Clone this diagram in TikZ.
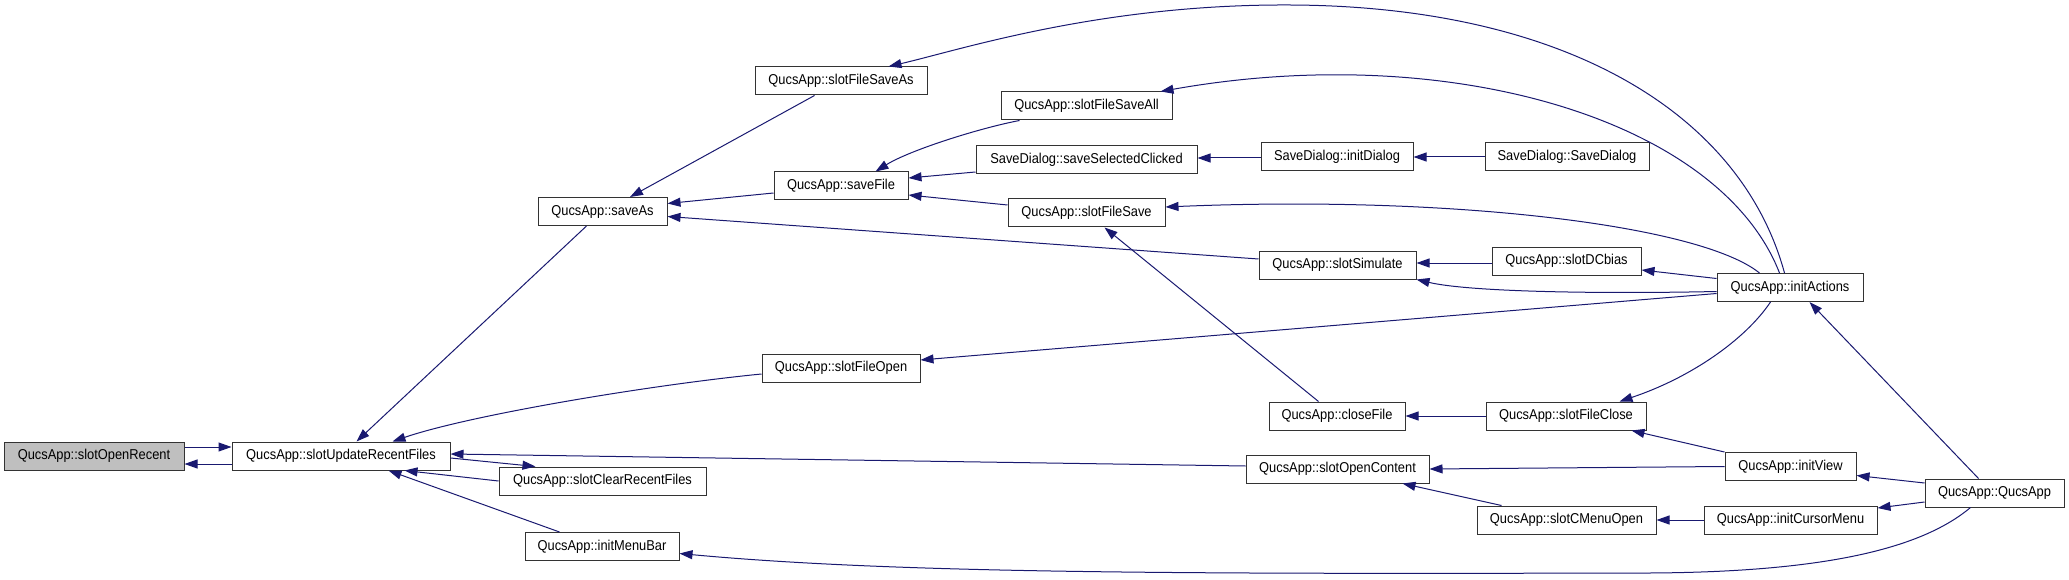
\documentclass[tikz,border=0pt]{standalone}
\usepackage{fontspec}
\setmainfont{Liberation Sans}[FakeStretch=0.9]
\usepackage{xcolor}
\usepackage{tikz}
\usetikzlibrary{arrows.meta}
\definecolor{edgeblue}{RGB}{25,25,112}
\definecolor{nodegray}{RGB}{191,191,191}

\begin{document}
\begin{tikzpicture}[
        x=1pt, y=-1pt,
        every node/.style={font=\fontsize{14.3}{16}\selectfont},
        fn/.style={rectangle, draw=black!80, line width=1pt, fill=white,
            minimum height=28pt, inner sep=0pt, text centered},
        fnhl/.style={fn, fill=nodegray},
        call/.style={color=edgeblue, line width=1pt,
            -{Triangle[length=13pt,width=9pt]}}
    ]
    \useasboundingbox (0,0) rectangle (2069,580);
    \node (openrecent)   [fnhl, minimum width=180pt] at (94,456)      {QucsApp::slotOpenRecent};
    \node (updaterecent) [fn, minimum width=218pt]   at (341,456)     {QucsApp::slotUpdateRecentFiles};
    \node (clearrecent)  [fn, minimum width=207pt]   at (602.5,481)   {QucsApp::slotClearRecentFiles};
    \node (initmenubar)  [fn, minimum width=154pt]   at (602,546.5)   {QucsApp::initMenuBar};
    \node (saveas)       [fn, minimum width=129pt]   at (602.5,211.5) {QucsApp::saveAs};
    \node (filesaveas)   [fn, minimum width=172pt]   at (841,81)      {QucsApp::slotFileSaveAs};
    \node (savefile)     [fn, minimum width=134pt]   at (841,186)     {QucsApp::saveFile};
    \node (fileopen)     [fn, minimum width=158pt]   at (841,368)     {QucsApp::slotFileOpen};
    \node (filesaveall)  [fn, minimum width=171pt]   at (1086.5,106)  {QucsApp::slotFileSaveAll};
    \node (saveselected) [fn, minimum width=221pt]   at (1086.5,160)  {SaveDialog::saveSelectedClicked};
    \node (filesave)     [fn, minimum width=157pt]   at (1086.5,213)  {QucsApp::slotFileSave};
    \node (initdialog)   [fn, minimum width=152pt]   at (1337,157)    {SaveDialog::initDialog};
    \node (simulate)     [fn, minimum width=157pt]   at (1337.5,265)  {QucsApp::slotSimulate};
    \node (closefile)    [fn, minimum width=136pt]   at (1337,416)    {QucsApp::closeFile};
    \node (opencontent)  [fn, minimum width=183pt]   at (1337.5,469)  {QucsApp::slotOpenContent};
    \node (savedialog)   [fn, minimum width=164pt]   at (1567,157)    {SaveDialog::SaveDialog};
    \node (dcbias)       [fn, minimum width=149pt]   at (1566.5,261)  {QucsApp::slotDCbias};
    \node (fileclose)    [fn, minimum width=160pt]   at (1566,416)    {QucsApp::slotFileClose};
    \node (cmenuopen)    [fn, minimum width=179pt]   at (1566.5,520)  {QucsApp::slotCMenuOpen};
    \node (initactions)  [fn, minimum width=146pt]   at (1790,287.5)  {QucsApp::initActions};
    \node (initview)     [fn, minimum width=131pt]   at (1790.5,466.5){QucsApp::initView};
    \node (initcursor)   [fn, minimum width=173pt]   at (1790.5,520)  {QucsApp::initCursorMenu};
    \node (qucsapp)      [fn, minimum width=139pt]   at (1994.5,493)  {QucsApp::QucsApp};
    \draw [call] ([yshift=9pt]openrecent.east) -- ([yshift=9pt]updaterecent.west);
    \draw [call] ([yshift=-8pt]updaterecent.west) -- ([yshift=-8pt]openrecent.east);
    \draw [call] ([yshift=-2pt]updaterecent.east) -- ([xshift=37pt]clearrecent.north west);
    \draw [call] (clearrecent.west) -- ([xshift=-46pt]updaterecent.south east);
    \draw [call] ([xshift=35pt]initmenubar.north west) -- ([xshift=-62pt]updaterecent.south east);
    \draw [call] ([xshift=49pt]saveas.south west) -- ([xshift=125pt]updaterecent.north west);
    \draw [call] ([yshift=-6pt]fileopen.west) .. controls (650,385) and (470,415)
        .. ([xshift=-58pt]updaterecent.north east);
    \draw [call] ([yshift=3pt]opencontent.west) -- ([yshift=2pt]updaterecent.east);
    \draw [call] ([xshift=60pt]filesaveas.south west) -- ([xshift=-37.5pt]saveas.north east);
    \draw [call] ([yshift=-7pt]savefile.west) -- ([yshift=8pt]saveas.east);
    \draw [call] ([yshift=6pt]simulate.west) -- ([yshift=-5pt]saveas.east);
    \draw [call] ([xshift=19pt]filesaveall.south west) .. controls (980,128) and (910,150)
        .. ([xshift=-33pt]savefile.north east);
    \draw [call] ([yshift=-12pt]saveselected.west) -- ([yshift=8pt]savefile.east);
    \draw [call] ([yshift=8pt]filesave.west) -- ([yshift=-9pt]savefile.east);
    \draw [call] ([xshift=50pt]closefile.north west) -- ([xshift=97pt]filesave.south west);
    \draw [call] ([yshift=-1pt]initdialog.west) -- ([yshift=2pt]saveselected.east);
    \draw [call] (savedialog.west) -- (initdialog.east);
    \draw [call] ([xshift=68pt]initactions.north west) .. controls (1740,110) and (1560,6)
        .. (1290,5) .. controls (1100,4) and (960,50) .. ([xshift=-39pt]filesaveas.north east);
    \draw [call] ([xshift=63pt]initactions.north west) .. controls (1720,120) and (1450,40)
        .. ([xshift=-12pt]filesaveall.north east);
    \draw [call] ([xshift=43pt]initactions.north west) .. controls (1700,225) and (1450,195)
        .. ([yshift=6pt]filesave.east);
    \draw [call] ([yshift=-2pt]dcbias.west) -- ([yshift=2pt]simulate.east);
    \draw [call] ([yshift=9pt]initactions.west) -- ([yshift=-9pt]dcbias.east);
    \draw [call] ([yshift=-4pt]initactions.west) .. controls (1600,294) and (1470,292)
        .. (simulate.south east);
    \draw [call] ([yshift=-6pt]initactions.west) -- ([yshift=8pt]fileopen.east);
    \draw [call] ([xshift=54pt]qucsapp.north west) -- ([xshift=-54pt]initactions.south east);
    \draw [call] ([xshift=54pt]initactions.south west) .. controls (1745,340) and (1690,378)
        .. ([xshift=-27pt]fileclose.north east);
    \draw [call] (fileclose.west) -- (closefile.east);
    \draw [call] (initview.north west) -- ([xshift=-15pt]fileclose.south east);
    \draw [call] (initview.west) -- (opencontent.east);
    \draw [call] ([yshift=10pt]qucsapp.west) -- ([yshift=-9pt]initview.east);
    \draw [call] ([yshift=-9pt]qucsapp.west) -- ([yshift=12pt]initcursor.east);
    \draw [call] (initcursor.west) -- (cmenuopen.east);
    \draw [call] ([xshift=25pt]cmenuopen.north west) -- ([xshift=-27pt]opencontent.south east);
    \draw [call] ([xshift=46pt]qucsapp.south west) .. controls (1920,550) and (1820,572)
        .. (1650,573) .. controls (1200,574) and (900,574) .. ([yshift=-7pt]initmenubar.east);
\end{tikzpicture}
\end{document}
